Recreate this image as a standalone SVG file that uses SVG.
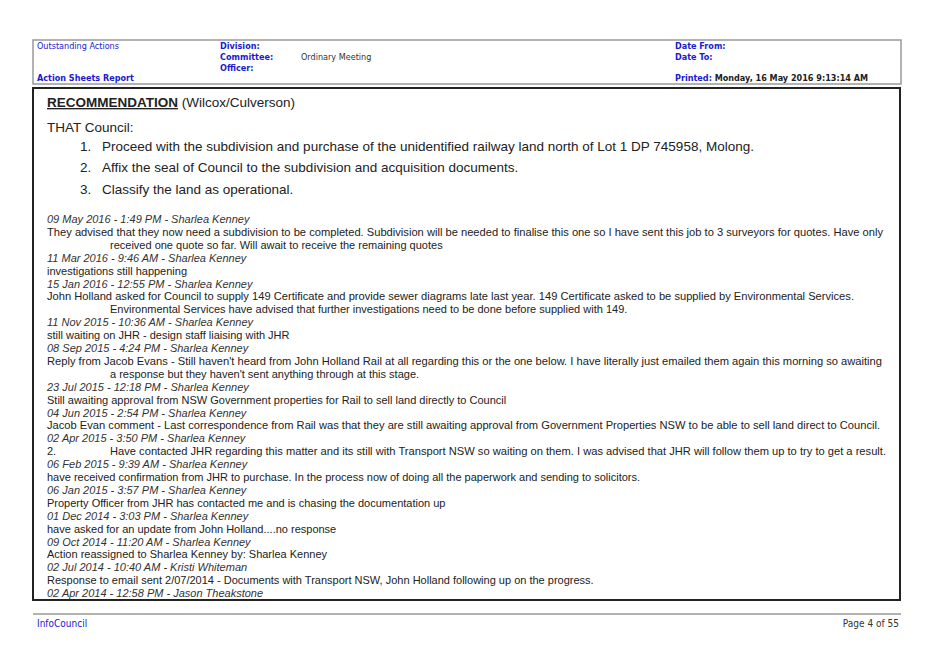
<svg xmlns="http://www.w3.org/2000/svg" width="939" height="664" viewBox="0 0 939 664">
<style>
.h{font-family:"DejaVu Sans Condensed","Liberation Sans",sans-serif;font-size:9px;fill:#1a1ad0;font-weight:bold}
.hn{font-family:"DejaVu Sans Condensed","Liberation Sans",sans-serif;font-size:9px;fill:#333}
.hb{font-family:"DejaVu Sans Condensed","Liberation Sans",sans-serif;font-size:9px;fill:#222;font-weight:bold}
.b{font-family:"Liberation Sans",Arial,sans-serif;font-size:13.5px;fill:#222}
.l{font-family:"Liberation Sans",Arial,sans-serif;font-size:11px;fill:#222}
.i{font-family:"Liberation Sans",Arial,sans-serif;font-size:11px;fill:#333;font-style:italic}
</style>
<rect width="939" height="664" fill="#fff"/>
<g id="header">
<rect x="33" y="40" width="868" height="44" fill="none" stroke="#999" stroke-width="1.5"/>
<text x="37" y="49" class="h" style="font-weight:normal">Outstanding Actions</text>
<text x="37" y="81" class="h">Action Sheets Report</text>
<text x="220" y="49" class="h">Division:</text>
<text x="220" y="60" class="h">Committee:</text>
<text x="220" y="71" class="h">Officer:</text>
<text x="301" y="60" class="hn">Ordinary Meeting</text>
<text x="675" y="49" class="h">Date From:</text>
<text x="675" y="60" class="h">Date To:</text>
<text x="675" y="81" class="h">Printed: <tspan class="hb">Monday, 16 May 2016   9:13:14 AM</tspan></text>
</g>
<g id="body">
<rect x="33" y="88" width="867" height="512" fill="none" stroke="#222" stroke-width="2"/>
<text x="47" y="107" class="b"><tspan text-decoration="underline" font-weight="bold">RECOMMENDATION</tspan> (Wilcox/Culverson)</text>
<text x="47" y="132" class="b">THAT Council:</text>
<text x="80" y="151" class="b">1.</text><text x="102" y="151" class="b">Proceed with the subdivision and purchase of the unidentified railway land north of Lot 1 DP 745958, Molong.</text>
<text x="80" y="172" class="b">2.</text><text x="102" y="172" class="b">Affix the seal of Council to the subdivision and acquisition documents.</text>
<text x="80" y="194" class="b">3.</text><text x="102" y="194" class="b">Classify the land as operational.</text>
<text x="47" y="223" class="i">09 May 2016 - 1:49 PM - Sharlea Kenney</text>
<text x="47" y="235.9" class="l" textLength="836" lengthAdjust="spacingAndGlyphs">They advised that they now need a subdivision to be completed. Subdivision will be needed to finalise this one so I have sent this job to 3 surveyors for quotes. Have only</text>
<text x="110" y="248.8" class="l">received one quote so far. Will await to receive the remaining quotes</text>
<text x="47" y="261.7" class="i">11 Mar 2016 - 9:46 AM - Sharlea Kenney</text>
<text x="47" y="274.6" class="l">investigations still happening</text>
<text x="47" y="287.5" class="i">15 Jan 2016 - 12:55 PM - Sharlea Kenney</text>
<text x="47" y="300.4" class="l" textLength="807" lengthAdjust="spacingAndGlyphs">John Holland asked for Council to supply 149 Certificate and provide sewer diagrams late last year. 149 Certificate asked to be supplied by Environmental Services.</text>
<text x="110" y="313.3" class="l">Environmental Services have advised that further investigations need to be done before supplied with 149.</text>
<text x="47" y="326.2" class="i">11 Nov 2015 - 10:36 AM - Sharlea Kenney</text>
<text x="47" y="339.1" class="l">still waiting on JHR - design staff liaising with JHR</text>
<text x="47" y="352" class="i">08 Sep 2015 - 4:24 PM - Sharlea Kenney</text>
<text x="47" y="364.9" class="l" textLength="835" lengthAdjust="spacingAndGlyphs">Reply from Jacob Evans - Still haven't heard from John Holland Rail at all regarding this or the one below. I have literally just emailed them again this morning so awaiting</text>
<text x="110" y="377.8" class="l">a response but they haven't sent anything through at this stage.</text>
<text x="47" y="390.7" class="i">23 Jul 2015 - 12:18 PM - Sharlea Kenney</text>
<text x="47" y="403.6" class="l">Still awaiting approval from NSW Government properties for Rail to sell land directly to Council</text>
<text x="47" y="416.5" class="i">04 Jun 2015 - 2:54 PM - Sharlea Kenney</text>
<text x="47" y="429.4" class="l" textLength="833" lengthAdjust="spacingAndGlyphs">Jacob Evan comment - Last correspondence from Rail was that they are still awaiting approval from Government Properties NSW to be able to sell land direct to Council.</text>
<text x="47" y="442.3" class="i">02 Apr 2015 - 3:50 PM - Sharlea Kenney</text>
<text x="47" y="455.2" class="l">2.</text>
<text x="110" y="455.2" class="l" textLength="776" lengthAdjust="spacingAndGlyphs">Have contacted JHR regarding this matter and its still with Transport NSW so waiting on them. I was advised that JHR will follow them up to try to get a result.</text>
<text x="47" y="468.1" class="i">06 Feb 2015 - 9:39 AM - Sharlea Kenney</text>
<text x="47" y="481" class="l">have received confirmation from JHR to purchase.  In the process now of doing all the paperwork and sending to solicitors.</text>
<text x="47" y="493.9" class="i">06 Jan 2015 - 3:57 PM - Sharlea Kenney</text>
<text x="47" y="506.8" class="l">Property Officer from JHR has contacted me and is chasing the documentation up</text>
<text x="47" y="519.7" class="i">01 Dec 2014 - 3:03 PM - Sharlea Kenney</text>
<text x="47" y="532.6" class="l">have asked for an update from John Holland....no response</text>
<text x="47" y="545.5" class="i">09 Oct 2014 - 11:20 AM - Sharlea Kenney</text>
<text x="47" y="558.4" class="l">Action reassigned to Sharlea Kenney by: Sharlea Kenney</text>
<text x="47" y="571.3" class="i">02 Jul 2014 - 10:40 AM - Kristi Whiteman</text>
<text x="47" y="584.2" class="l">Response to email sent 2/07/2014 - Documents with Transport NSW, John Holland following up on the progress.</text>
<text x="47" y="597.1" class="i">02 Apr 2014 - 12:58 PM - Jason Theakstone</text>
</g>
<g id="footer">
<line x1="33" y1="614" x2="901" y2="614" stroke="#999" stroke-width="1.5"/>
<text x="37" y="627" class="h" style="font-weight:normal;font-size:10px">InfoCouncil</text>
<text x="899" y="627" class="hn" text-anchor="end" style="font-size:10px">Page 4 of 55</text>
</g>
</svg>
